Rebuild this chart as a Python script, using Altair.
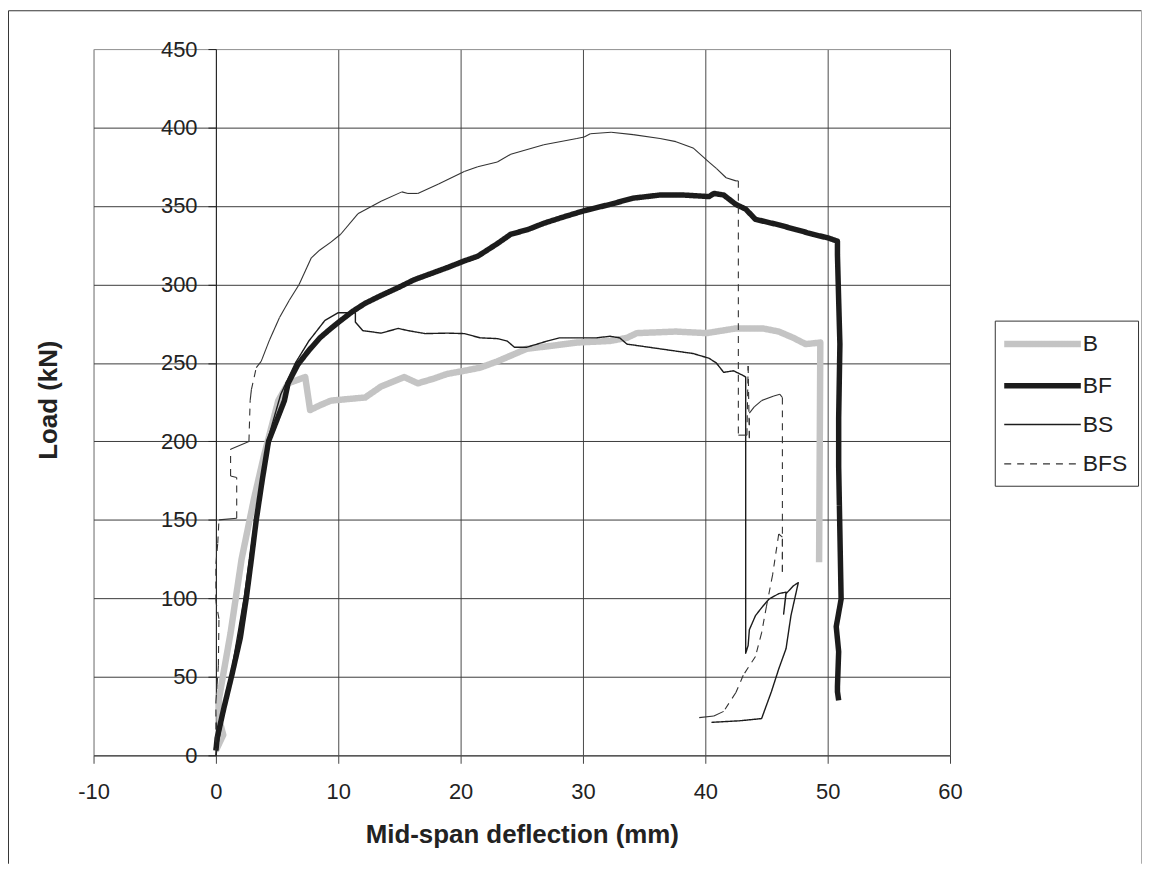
import altair as alt
import pandas as pd

# ---------------- data ----------------
SERIES = ["B", "BF", "BS", "BFS"]

B_X = [0, 0.6, 0.3, 0.25, 1.2, 2.1, 3.1, 3.9, 5.1, 5.9, 6.6, 7.3, 7.7, 8.5, 9.4, 10.8, 12.2, 13.5, 15.4, 16.5,
       17.8, 18.9, 20.3, 21.6, 23.0, 25.4, 27.5, 29.5, 32.2, 33.6, 34.4, 37.6, 40.1, 42.5, 44.7, 46.0, 47.2, 48.2,
       49.4, 49.3]
B_Y = [3, 13, 22, 36, 78, 125, 163, 190, 226, 237, 239, 241, 220, 223, 226, 227, 228, 235, 241, 237,
       240, 243, 245, 247, 251, 259, 261, 263, 264, 266, 269, 270, 269, 272, 272, 270, 266, 262,
       263, 123]

BF_X = [0, 0.1, 0.65, 1.3, 2.0, 2.5, 2.9, 3.3, 3.8, 4.3, 5.0, 5.6, 5.9, 6.7, 7.6, 8.5, 9.4, 10.2, 11.2, 12.2,
        13.5, 14.9, 16.2, 17.6, 19.0, 20.3, 21.4, 22.2, 23.0, 24.1, 25.5, 26.8, 28.4, 30.1, 32.2, 34.1, 36.3, 38.2,
        40.3, 40.7, 41.5, 42.5, 43.3, 44.1, 46.0, 47.4, 48.8, 50.1, 50.8, 50.8, 50.9, 51.0, 50.9, 50.9, 51.1, 50.7,
        50.9, 50.8, 50.8, 50.9]
BF_Y = [3, 11, 30, 51, 75, 101, 125, 150, 176, 200, 214, 226, 237, 249, 258, 266, 272, 277, 283, 288,
        293, 298, 303, 307, 311, 315, 318, 322, 326, 332, 335, 339, 343, 347, 351, 355, 357, 357,
        356, 358, 357, 351, 348, 341.5, 338, 335, 332, 329.5, 327.6, 319, 290, 262, 215, 184, 99.5, 82,
        66, 44, 40.5, 35]

BS_X = [0, 1.2, 2.3, 3.2, 4.2, 5.3, 6.5, 7.6, 8.9, 10.0, 11.4, 11.4, 12.0, 13.5, 14.9, 15.7, 17.1, 18.9, 20.3,
        21.6, 23.0, 23.8, 24.4, 25.4, 27.1, 28.1, 31.1, 32.2, 33.0, 33.6, 36.3, 39.0, 40.3, 40.9, 41.5, 42.3, 43.1,
        43.3, 43.3, 43.5, 43.6, 44.1, 44.6, 45.2, 46.0, 46.6, 46.4, 46.6, 47.2, 47.6, 47.0, 46.6, 46.0, 45.4, 44.6,
        42.8, 40.5]
BS_Y = [0, 50, 100, 150, 200, 230, 250, 264, 277, 282, 282, 276, 270.6, 269, 272, 270.6, 268.7, 269, 268.7,
        266, 265.5, 264, 260, 260, 264, 266, 266, 267, 266, 262, 259, 256, 253, 250, 244, 245, 242,
        241, 65, 70, 80, 89, 94, 99.5, 103, 104, 90, 103, 108, 110, 89, 68, 55, 40.5, 23.4,
        22, 21]

BFS_X = [0, 0, 0.1, 0.2, 0.25, 0, 0, 0.15, 0.25, 1.7, 1.7, 1.2, 1.2, 2.7, 2.8, 2.9, 3.3, 3.7, 4.4, 5.2,
         6.0, 6.8, 7.8, 8.5, 9.4, 10.2, 11.6, 13.5, 15.2, 15.7, 16.5, 18.2, 20.3, 21.4, 23.0, 24.1, 26.8, 29.5,
         30.1, 30.6, 32.3, 34.1, 36.3, 37.6, 39.0, 40.3, 40.9, 41.7, 42.5, 42.7, 42.7, 43.4, 43.5, 43.6, 43.6,
         44.0, 44.6, 45.6, 46.1, 46.3, 46.3, 46.3, 46.0, 45.5, 45.0, 44.6, 44.1, 43.1, 42.5, 41.5, 40.7, 39.5]
BFS_Y = [0, 34, 45, 57, 87, 98, 122, 135, 150, 151, 177, 178, 195, 200, 226, 233, 247, 251, 265, 279,
         290, 300, 317, 322, 327, 332, 345, 353, 359, 358, 358, 364, 372, 375, 378, 383, 389, 393,
         394, 396, 397, 395.5, 393, 391, 387, 378, 374, 368, 366, 366, 204, 204, 248, 202, 218,
         222, 226, 229, 230, 228, 117, 139, 141, 115, 95, 78, 63, 51, 40, 28, 25, 24]

X_TICKS = list(range(-10, 61, 10))
Y_TICKS = list(range(0, 451, 50))

COLORS = ["#c4c4c4", "#1c1c1c", "#1c1c1c", "#333333"]
WIDTHS = [6.5, 5.5, 1.4, 1.1]
DASHES = [[1, 0], [1, 0], [1, 0], [7, 6]]

# ---------------- layout ----------------
W, H = 861, 710
PX_MM = W / 70.0
PX_KN = H / 450.0
FONT = "Liberation Sans"

rows = []
for name, xs, ys in [("B", B_X, B_Y), ("BF", BF_X, BF_Y), ("BS", BS_X, BS_Y)]:
    for i, (x, y) in enumerate(zip(xs, ys)):
        rows.append({"series": name, "idx": i, "x": x, "y": y})
lines_df = pd.DataFrame(rows)

dash_rows, solid_rows = [], []
for i in range(len(BFS_X) - 1):
    x1, y1, x2, y2 = BFS_X[i], BFS_Y[i], BFS_X[i + 1], BFS_Y[i + 1]
    dxp, dyp = abs(x2 - x1) * PX_MM, abs(y2 - y1) * PX_KN
    length = (dxp ** 2 + dyp ** 2) ** 0.5
    dashed = length > 15 and dyp > dxp and (y2 < y1 or dxp < 0.35 * dyp)
    rec = {"series": "BFS", "x": x1, "y": y1, "x2": x2, "y2": y2}
    (dash_rows if dashed else solid_rows).append(rec)
dash_df = pd.DataFrame(dash_rows)
solid_df = pd.DataFrame(solid_rows)

legend = alt.Legend(
    title=None, orient="none", legendX=906, legendY=273,
    symbolType="M-3.85,0H3.85", symbolSize=400, symbolOffset=24.5,
    labelOffset=27, labelFont=FONT, labelFontSize=23, labelColor="#222222",
    padding=10, rowPadding=15.5, strokeColor="#333333", fillColor="white", labelLimit=200,
)

color_enc = alt.Color("series:N", scale=alt.Scale(domain=SERIES, range=COLORS), legend=legend)
width_enc = alt.StrokeWidth("series:N", scale=alt.Scale(type="ordinal", domain=SERIES, range=WIDTHS),
                            legend=legend)
dash_enc = alt.StrokeDash("series:N", scale=alt.Scale(domain=SERIES, range=DASHES), legend=legend)

x_scale = alt.Scale(domain=[-10, 60], nice=False, zero=False)
y_scale = alt.Scale(domain=[0, 450], nice=False, zero=False)

x_axis = alt.Axis(
    values=X_TICKS, title="Mid-span deflection (mm)", titleFont=FONT, titleFontSize=26,
    titleFontWeight="bold", titleColor="#222222", titlePadding=20,
    labelFont=FONT, labelFontSize=22, labelColor="#222222", labelPadding=18, labelFlush=False,
    labelExpr="'' + datum.value", tickSize=8, tickColor="#444444", domainColor="#555555",
    gridColor={"condition": {"test": "datum.value === -10", "value": "#999999"}, "value": "#4a4a4a"},
    gridWidth=1,
)
y_axis = alt.Axis(
    values=Y_TICKS, title=None, offset=-123,
    labelFont=FONT, labelFontSize=22, labelColor="#222222", labelPadding=11, labelFlush=False,
    labelExpr="'' + datum.value", tickSize=8, tickColor="#222222", domainColor="#222222",
    gridColor={"condition": {"test": "datum.value === 450", "value": "#999999"}, "value": "#3a3a3a"},
    gridWidth=1,
)

lines = alt.Chart(lines_df).mark_line(strokeJoin="round").encode(
    x=alt.X("x:Q", scale=x_scale, axis=x_axis),
    y=alt.Y("y:Q", scale=y_scale, axis=y_axis),
    order=alt.Order("idx:Q"),
    color=color_enc, strokeWidth=width_enc, strokeDash=dash_enc,
)

bfs_dashed = alt.Chart(dash_df).mark_rule().encode(
    x="x:Q", y="y:Q", x2="x2:Q", y2="y2:Q",
    color=color_enc, strokeWidth=width_enc, strokeDash=dash_enc,
)

bfs_solid = alt.Chart(solid_df).mark_rule(color="#333333", strokeWidth=1.1).encode(
    x="x:Q", y="y:Q", x2="x2:Q", y2="y2:Q",
)

y_title = alt.Chart(pd.DataFrame({"t": ["Load (kN)"]})).mark_text(
    font=FONT, fontSize=26, fontWeight="bold", color="#222222", angle=270,
    align="center", baseline="alphabetic",
).encode(x=alt.value(-37), y=alt.value(353), text="t:N")

frame_df = pd.DataFrame({"k": [0]})
frame_left = alt.Chart(frame_df).mark_rule(color="#333333", strokeWidth=1).encode(
    x=alt.value(-85.5), y=alt.value(-38.5), y2=alt.value(819))
frame_top = alt.Chart(frame_df).mark_rule(color="#333333", strokeWidth=1).encode(
    x=alt.value(-85.5), x2=alt.value(1053.5), y=alt.value(-38.5))
frame_right = alt.Chart(frame_df).mark_rule(color="#aaaaaa", strokeWidth=1).encode(
    x=alt.value(1053.5), y=alt.value(-38.5), y2=alt.value(819))

chart = alt.layer(
    lines, bfs_solid, bfs_dashed, y_title, frame_left, frame_top, frame_right
).properties(
    width=W, height=H,
    autosize=alt.AutoSizeParams(type="none"),
    padding={"left": 86, "top": 39, "right": 193, "bottom": 109},
    background="white",
).configure_view(
    stroke="#999999", strokeWidth=1,
)

chart.save("out.html", embed_options={"renderer": "svg", "actions": False})
